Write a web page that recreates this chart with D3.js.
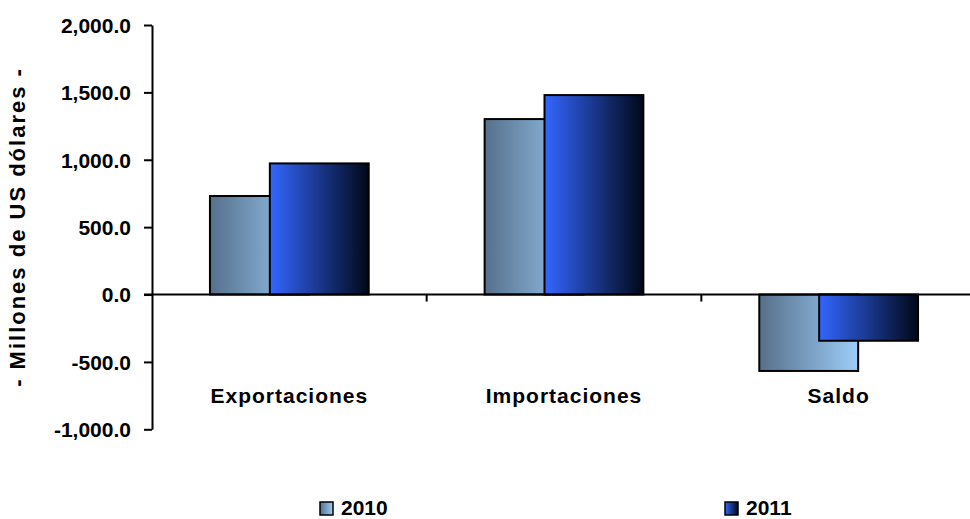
<!DOCTYPE html>
<html><head><meta charset="utf-8">
<script src="https://cdn.jsdelivr.net/npm/d3@7"></script>
<style>body{margin:0;background:#fff;} text{font-family:"Liberation Sans",Arial,sans-serif;font-weight:bold;fill:#000;}</style>
</head><body><svg id="c" width="970" height="519"></svg>
<script>
const categories = ["Exportaciones", "Importaciones", "Saldo"];
const seriesNames = ["2010", "2011"];
const values2010 = [731, 1302, -567];
const values2011 = [973, 1480, -343];
const yTicks = [-1000, -500, 0, 500, 1000, 1500, 2000];
const yTitle = "- Millones de US dólares -";

const svg = d3.select("#c");
const defs = svg.append("defs");
const grads = [
  {id:"g2010", from:"#56708b", to:"#9dcdf8"},
  {id:"g2011", from:"#3366ff", to:"#000817"}
];
grads.forEach(g => {
  const lg = defs.append("linearGradient").attr("id", g.id).attr("x1","0").attr("x2","1").attr("y1","0").attr("y2","0");
  lg.append("stop").attr("offset","0%").attr("stop-color", g.from);
  lg.append("stop").attr("offset","100%").attr("stop-color", g.to);
});

const x = d3.scaleBand().domain(categories).range([152, 976]);
const y = d3.scaleLinear().domain([-1000, 2000]).range([429.3, 25]);
const bw = x.bandwidth() * 0.36;
const off = x.bandwidth() * 0.218;

const fmt = d3.format(",.1f");
// y axis
const yAxis = d3.axisLeft(y).tickValues(yTicks).tickSize(8).tickSizeOuter(0).tickPadding(13)
  .tickFormat(d => fmt(d).replace("\u2212", "-"));
const gy = svg.append("g").attr("transform","translate(152,0)").call(yAxis);
gy.select(".domain").attr("stroke","#000").attr("stroke-width",2);
gy.selectAll(".tick line").attr("stroke","#000").attr("stroke-width",2);
gy.selectAll("text").style("font-size","21px").attr("dy","0.35em");

// y title
svg.append("text").attr("transform","translate(25,227) rotate(-90)").attr("text-anchor","middle")
  .style("font-size","22px").style("letter-spacing","2px").text(yTitle);

// bars
const data = [values2010, values2011];
data.forEach((vals, si) => {
  svg.append("g").selectAll("rect").data(categories).join("rect")
    .attr("x", c => x(c) + x.bandwidth()/2 - (bw + off)/2 + si*off)
    .attr("width", bw)
    .attr("y", (c,i) => y(Math.max(0, vals[i])))
    .attr("height", (c,i) => Math.abs(y(vals[i]) - y(0)))
    .attr("fill", `url(#${grads[si].id})`)
    .attr("stroke","#000").attr("stroke-width",2);
});

// x axis line
svg.append("line").attr("x1",144).attr("x2",970).attr("y1",y(0)).attr("y2",y(0))
  .attr("stroke","#000").attr("stroke-width",2);
// category separator ticks
svg.append("g").selectAll("line").data(categories.slice(1)).join("line")
  .attr("x1", c => x(c)).attr("x2", c => x(c))
  .attr("y1", y(0)).attr("y2", y(0)+7).attr("stroke","#000").attr("stroke-width",2);

// category labels
svg.append("g").selectAll("text").data(categories).join("text")
  .attr("x", c => x(c) + x.bandwidth()/2).attr("y", 403)
  .attr("text-anchor","middle").style("font-size","21px").style("letter-spacing","1px").text(c => c);

// legend
const legX = [320, 725];
seriesNames.forEach((s, i) => {
  svg.append("rect").attr("x", legX[i]).attr("y", 502).attr("width", 13).attr("height", 13)
    .attr("fill", `url(#${grads[i].id})`).attr("stroke","#000").attr("stroke-width",1.5);
  svg.append("text").attr("x", legX[i] + 21).attr("y", 515).style("font-size","21px").text(s);
});
</script></body></html>
